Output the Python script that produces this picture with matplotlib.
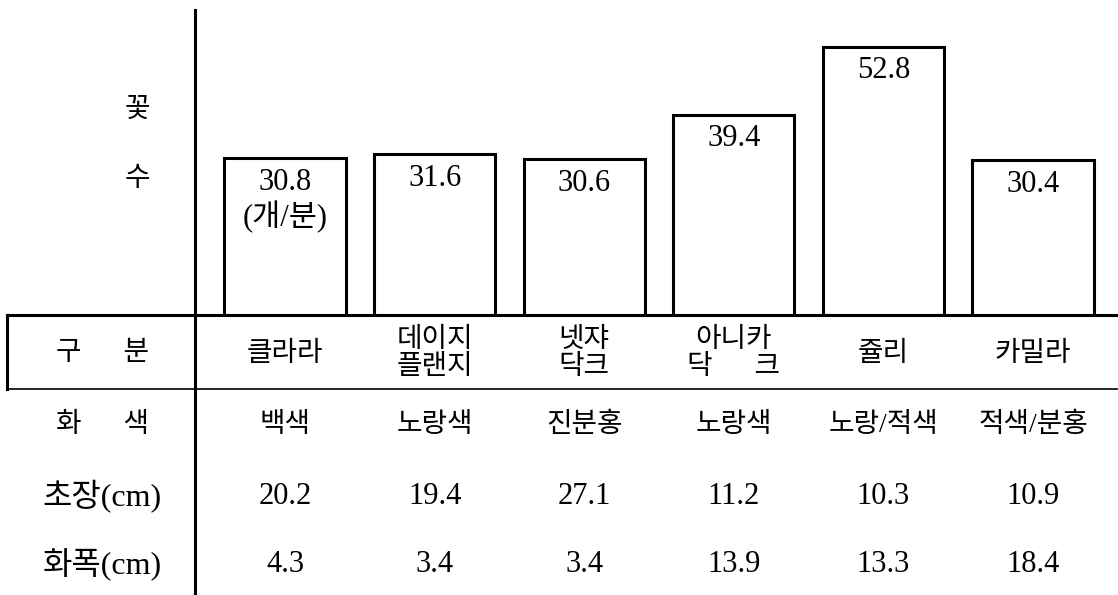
"""
Flower count per pot by cultivar, with trait table underneath
"""
import matplotlib.pyplot as plt
from matplotlib.lines import Line2D
from matplotlib.transforms import blended_transform_factory

plt.rcParams['font.family'] = ['Liberation Serif', 'Noto Sans CJK KR']

cultivars = ['클라라', '데이지\n플랜지', '넷쟈\n닥크', '아니카\n닥      크', '쥴리', '카밀라']
flowers = [30.8, 31.6, 30.6, 39.4, 52.8, 30.4]
flower_labels = ['30.8\n(개/분)', '31.6', '30.6', '39.4', '52.8', '30.4']
colors = ['백색', '노랑색', '진분홍', '노랑색', '노랑/적색', '적색/분홍']
length = ['20.2', '19.4', '27.1', '11.2', '10.3', '10.9']
width = ['4.3', '3.4', '3.4', '13.9', '13.3', '18.4']

W, H = 1118, 595
fig = plt.figure(figsize=(W / 100, H / 100), dpi=100)

# bar area: left edge on the vertical rule, bottom on the table header line
ax = fig.add_axes([195 / W, 1 - 315 / H, 1 - 195 / W, (315 - 10) / H])
x = list(range(len(flowers)))
ax.bar(x, flowers, width=0.81, color='white', edgecolor='black', linewidth=2.2)
ax.set_xlim(-0.602, 5.568)
ax.set_ylim(0, 60)
ax.axis('off')

for xi, v, lab in zip(x, flowers, flower_labels):
    ax.annotate(lab, (xi, v), xytext=(0, -7), textcoords='offset points',
                ha='center', va='top', fontsize=22, linespacing=1.15)

fs = 20
fs_num = 22
fig.text(137 / W, 1 - 110 / H, '꽃', ha='center', va='center', fontsize=fs)
fig.text(137 / W, 1 - 180 / H, '수', ha='center', va='center', fontsize=fs)

# table lines
def fline(x0, y0, x1, y1, lw):
    fig.add_artist(Line2D([x0 / W, x1 / W], [1 - y0 / H, 1 - y1 / H],
                          transform=fig.transFigure, color='black', linewidth=lw))

fline(195, 10, 195, 595, 2.2)
fline(7, 315, W, 315, 2.2)
fline(7, 389, W, 389, 1.2)
fline(7, 315, 7, 389, 2.2)

tr = blended_transform_factory(ax.transData, fig.transFigure)
rows = [
    ('구      분', 354, cultivars, fs, fs),
    ('화      색', 425, colors, fs, fs),
    ('초장(cm)', 497, length, fs_num, 23),
    ('화폭(cm)', 565, width, fs_num, 23),
]
for label, ypx, vals, vfs, lfs in rows:
    yf = 1 - ypx / H
    fig.text(102 / W, yf, label, ha='center', va='center', fontsize=lfs)
    for xi, v in zip(x, vals):
        ax.text(xi, yf, v, transform=tr, ha='center', va='center',
                fontsize=vfs, linespacing=1.1)

plt.savefig('out.png', dpi=100)
